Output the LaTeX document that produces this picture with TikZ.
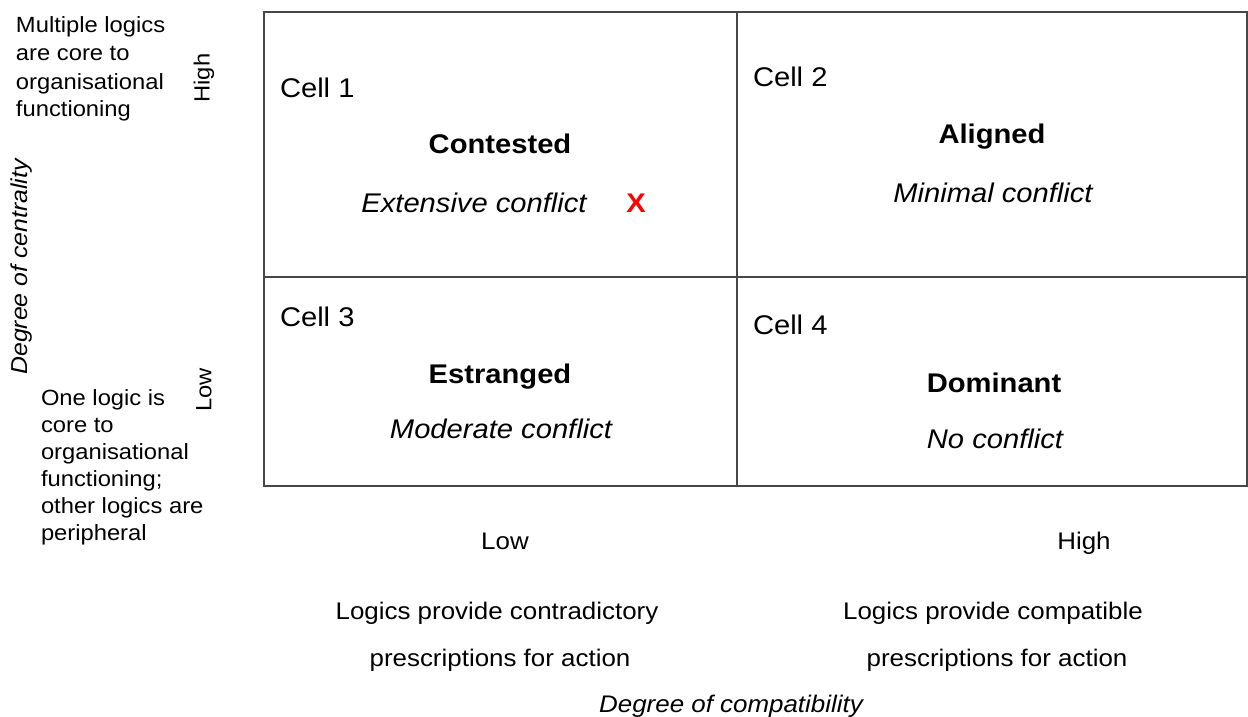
\documentclass[tikz,border=0pt]{standalone}
\usepackage{fontspec}
\setmainfont{Liberation Sans}[FakeStretch=1.08]
\begin{document}
\begin{tikzpicture}[x=1pt,y=-1pt,
  every node/.style={inner sep=0pt,outer sep=0pt},
  gridline/.style={draw=black!72,line width=1.6pt},
  side/.style={font=\fontsize{22}{27}\selectfont,anchor=base west},
  rotlab/.style={font=\fontsize{22}{27}\selectfont,rotate=90,anchor=center},
  celltag/.style={font=\fontsize{27}{32}\selectfont,anchor=base west},
  celltitle/.style={font=\fontsize{27}{32}\selectfont\bfseries,anchor=base},
  cellnote/.style={font=\fontsize{27}{32}\selectfont\itshape,anchor=base},
  axis/.style={font=\fontsize{24}{28}\selectfont,anchor=base},
  axisname/.style={font=\fontsize{24}{28}\selectfont\itshape,anchor=base}]
\useasboundingbox (0,0) rectangle (1248,717);

% the 2x2 matrix
\coordinate (tl) at (264,12);
\coordinate (br) at (1247,486);
\coordinate (mt) at (737,12);
\coordinate (mb) at (737,486);
\coordinate (ml) at (264,277);
\coordinate (mr) at (1247,277);
\draw[gridline] (tl) rectangle (br);
\draw[gridline] (mt) -- (mb);
\draw[gridline] (ml) -- (mr);

% vertical axis: centrality
\node[side] (hi1) at (16,33) {Multiple logics};
\node[side] (hi2) at (16,61) {are core to};
\node[side] (hi3) at (16,89) {organisational};
\node[side] (hi4) at (16,117) {functioning};
\node[rotlab] (vhigh) at (204,78) {High};
\node[rotlab] (vlow) at (204,390) {Low};
\node[font=\fontsize{23}{27}\selectfont\itshape,rotate=90,anchor=center] (vname) at (22,267) {Degree of centrality};
\node[side] (lo1) at (41,405) {One logic is};
\node[side] (lo2) at (41,432) {core to};
\node[side] (lo3) at (41,459) {organisational};
\node[side] (lo4) at (41,486) {functioning;};
\node[side] (lo5) at (41,513) {other logics are};
\node[side] (lo6) at (41,540) {peripheral};

% cell 1
\node[celltag] (c1) at (280,97) {Cell 1};
\node[celltitle] (c1t) at (500,153) {Contested};
\node[cellnote] (c1n) at (474,212) {Extensive conflict};
\node[font=\fontsize{27}{32}\selectfont\bfseries,text=red,anchor=base] (c1x) at (636,212) {X};
% cell 2
\node[celltag] (c2) at (753,87) {Cell 2};
\node[celltitle] (c2t) at (992,143) {Aligned};
\node[cellnote] (c2n) at (993,202) {Minimal conflict};
% cell 3
\node[celltag] (c3) at (280,326) {Cell 3};
\node[celltitle] (c3t) at (500,383) {Estranged};
\node[cellnote] (c3n) at (501,438) {Moderate conflict};
% cell 4
\node[celltag] (c4) at (753,334) {Cell 4};
\node[celltitle] (c4t) at (994,392) {Dominant};
\node[cellnote] (c4n) at (995,448) {No conflict};

% horizontal axis: compatibility
\node[axis] (hlow) at (505,549) {Low};
\node[axis] (hhigh) at (1084,549) {High};
\node[axis] (l1a) at (497,619) {Logics provide contradictory};
\node[axis] (l1b) at (500,666) {prescriptions for action};
\node[axis] (r1a) at (993,619) {Logics provide compatible};
\node[axis] (r1b) at (997,666) {prescriptions for action};
\node[axisname] (hname) at (731,712) {Degree of compatibility};
\end{tikzpicture}
\end{document}
